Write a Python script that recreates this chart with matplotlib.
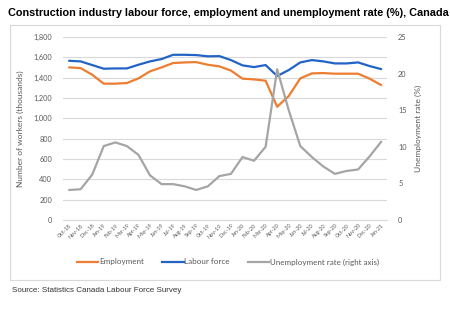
import matplotlib
matplotlib.use("Agg")
import matplotlib.pyplot as plt
from matplotlib.patches import Rectangle
from matplotlib.lines import Line2D

months = ["Oct-18", "Nov-18", "Dec-18", "Jan-19", "Feb-19", "Mar-19", "Apr-19", "May-19",
          "Jun-19", "Jul-19", "Aug-19", "Sep-19", "Oct-19", "Nov-19", "Dec-19", "Jan-20",
          "Feb-20", "Mar-20", "Apr-20", "May-20", "Jun-20", "Jul-20", "Aug-20", "Sep-20",
          "Oct-20", "Nov-20", "Dec-20", "Jan-21"]
employment = [1501, 1494, 1429, 1341, 1341, 1347, 1393, 1462, 1501, 1544, 1550, 1553,
              1527, 1511, 1470, 1390, 1383, 1370, 1114, 1219, 1393, 1442, 1445, 1439,
              1439, 1439, 1390, 1327]
labour_force = [1566, 1560, 1524, 1488, 1491, 1491, 1527, 1560, 1583, 1625, 1625, 1622,
                1610, 1612, 1573, 1521, 1504, 1524, 1416, 1475, 1550, 1573, 1560, 1540,
                1540, 1550, 1514, 1484]
unemp_rate = [4.1, 4.2, 6.2, 10.1, 10.6, 10.1, 8.9, 6.1, 4.9, 4.9, 4.6, 4.1,
              4.6, 6.0, 6.3, 8.6, 8.1, 10.0, 20.6, 15.0, 10.1, 8.6, 7.3, 6.3,
              6.7, 6.9, 8.7, 10.7]
left_ticks = list(range(0, 1801, 200))
right_ticks = list(range(0, 26, 5))

W, H = 450, 321
fig = plt.figure(figsize=(W / 100, H / 100), dpi=100)
fig.patch.set_facecolor("white")

def fx(px):
    return px / W

def fy(py):
    return 1 - py / H

# outer chart box
fig.patches.append(Rectangle((fx(10), fy(280)), fx(440) - fx(10), fy(25) - fy(280),
                             transform=fig.transFigure, fill=False, edgecolor="#d9d9d9",
                             linewidth=0.8))

fig.text(fx(8), fy(13), "Construction industry labour force, employment and unemployment rate (%), Canada",
         fontsize=7.85, fontweight="bold", family="Liberation Sans", va="center", ha="left",
         color="#000000")
fig.text(fx(12), fy(291), "Source: Statistics Canada Labour Force Survey",
         fontsize=5.8, family="Liberation Sans", va="center", ha="left", color="#333333")

ax = fig.add_axes([fx(63.3), fy(220), fx(387) - fx(63.3), fy(37) - fy(220)])
x = list(range(len(months)))
c_emp = "#ED7D31"
c_lf = "#2264C6"
c_ur = "#A5A5A5"
ax.plot(x, employment, color=c_emp, lw=1.6, solid_capstyle="round", zorder=3)
ax.plot(x, labour_force, color=c_lf, lw=1.6, solid_capstyle="round", zorder=3)
ax.set_xlim(-0.5, len(months) - 0.5)
ax.set_ylim(0, 1800)
ax.set_yticks(left_ticks)
ax.set_yticklabels([f"{v:,}" for v in left_ticks], fontsize=5.3, family="Lato", color="#595959")
ax.grid(axis="y", color="#d9d9d9", lw=0.8)
ax.set_axisbelow(True)
ax.set_xticks(x)
ax.set_xticklabels(months, rotation=45, ha="right", rotation_mode="anchor",
                   fontsize=3.9, family="Lato", color="#595959")
for s in ["top", "right", "left"]:
    ax.spines[s].set_visible(False)
ax.spines["bottom"].set_color("#d9d9d9")
ax.spines["bottom"].set_linewidth(0.8)
ax.tick_params(axis="y", length=0, pad=8)
ax.tick_params(axis="x", length=0, pad=2)
ax.set_ylabel("Number of workers (thousands)", fontsize=6, family="Lato", color="#595959",
              labelpad=7)

ax2 = ax.twinx()
ax2.plot(x, unemp_rate, color=c_ur, lw=1.6, solid_capstyle="round", zorder=3)
ax2.set_ylim(0, 25)
ax2.set_yticks(right_ticks)
ax2.set_yticklabels([str(v) for v in right_ticks], fontsize=5.3, family="Lato", color="#595959")
ax2.tick_params(axis="y", length=0, pad=8)
for s in ["top", "right", "left", "bottom"]:
    ax2.spines[s].set_visible(False)
ax2.set_ylabel("Unemployment rate (%)", fontsize=6, family="Lato", color="#595959", labelpad=6)

handles = [Line2D([], [], color=c_emp, lw=1.6),
           Line2D([], [], color=c_lf, lw=1.6),
           Line2D([], [], color=c_ur, lw=1.6)]
fig.legend(handles, ["Employment", "Labour force", "Unemployment rate (right axis)"],
           loc="center", bbox_to_anchor=(fx(228), fy(262)), ncol=3, frameon=False,
           prop={"family": "Lato", "size": 5.8}, labelcolor="#595959",
           handlelength=2.7, handletextpad=0.1, columnspacing=2.2)

fig.savefig("out.png", dpi=100, facecolor="white")
